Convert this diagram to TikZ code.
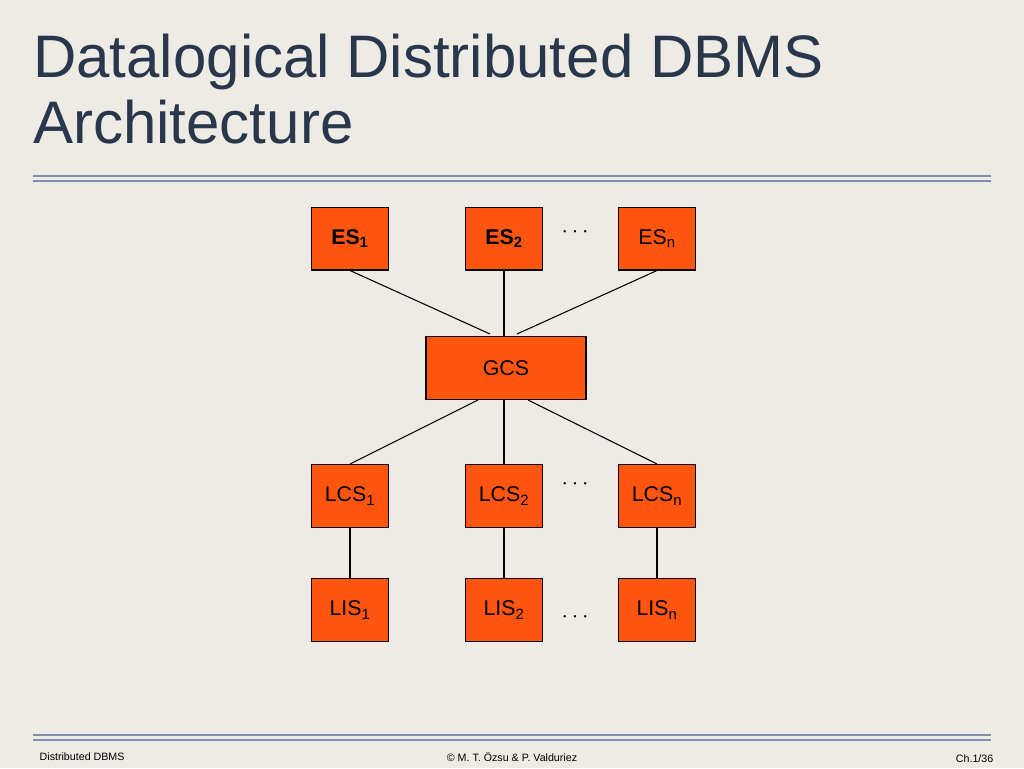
\documentclass[tikz,border=0pt]{standalone}
\usepackage{fontspec}
\setmainfont{Liberation Sans}
\definecolor{paper}{RGB}{238,235,228}
\definecolor{titleblue}{RGB}{40,55,75}
\definecolor{rulegray}{RGB}{125,145,175}
\definecolor{boxorange}{RGB}{255,85,15}
\begin{document}
\begin{tikzpicture}[x=0.75pt, y=-0.75pt,
		sbox/.style={draw=black, line width=1pt, fill=boxorange, minimum width=58pt, minimum height=47pt, inner sep=0pt, font=\fontsize{16}{18}\selectfont},
		link/.style={line width=0.8pt, color=black},
		dots/.style={font=\fontsize{16}{18}\selectfont}
		]
		\fill[paper] (0,0) rectangle (1024,768);
		\useasboundingbox (0,0) rectangle (1024,768);
		
		\node[anchor=north west, align=left, text=titleblue, font=\fontsize{45}{49}\selectfont, inner sep=0pt] (title) at (33,34) {Datalogical Distributed DBMS\\Architecture};
		\draw[rulegray, line width=1.5pt] (33,176) -- (991,176) (33,181) -- (991,181);
		\draw[rulegray, line width=1.5pt] (33,735) -- (991,735) (33,740) -- (991,740);
		
		\node[sbox](es1) at (350,238.5) {\textbf{ES\textsubscript{1}}};
		\node[sbox](es2) at (504,238.5) {\textbf{ES\textsubscript{2}}};
		\node[sbox](esn) at (657,238.5) {ES\textsubscript{n}};
		\node[dots](esd) at (575,232) {$\cdots$};
		
		\node[sbox, minimum width=120pt](gcs) at (506,368) {GCS};
		
		\node[sbox](lcs1) at (350,496) {LCS\textsubscript{1}};
		\node[sbox](lcs2) at (504,496) {LCS\textsubscript{2}};
		\node[sbox](lcsn) at (657,496) {LCS\textsubscript{n}};
		\node[dots](lcsd) at (575,484) {$\cdots$};
		
		\node[sbox](lis1) at (350,610) {LIS\textsubscript{1}};
		\node[sbox](lis2) at (504,610) {LIS\textsubscript{2}};
		\node[sbox](lisn) at (657,610) {LIS\textsubscript{n}};
		\node[dots](lisd) at (575,617) {$\cdots$};
		
		\coordinate (g1) at (490,334);
		\coordinate (g3) at (517,334);
		\draw[link] (es1.south) -- (g1);
		\draw[link] (es2.south) -- (es2.south |- gcs.north);
		\draw[link] (esn.south) -- (g3);
		\coordinate (h1) at (478,400);
		\coordinate (h3) at (528,400);
		\draw[link] (h1) -- (lcs1.north);
		\draw[link] (lcs2.north |- gcs.south) -- (lcs2.north);
		\draw[link] (h3) -- (lcsn.north);
		\draw[link] (lcs1) -- (lis1);
		\draw[link] (lcs2) -- (lis2);
		\draw[link] (lcsn) -- (lisn);
		
		\node[font=\fontsize{8}{9}\selectfont, anchor=west](fl) at (35,757) {Distributed DBMS};
		\node[font=\fontsize{8}{9}\selectfont](fc) at (512,757) {© M. T. Özsu \& P. Valduriez};
		\node[font=\fontsize{8}{9}\selectfont, anchor=east](fr) at (998,759) {Ch.1/36};
\end{tikzpicture}
\end{document}
